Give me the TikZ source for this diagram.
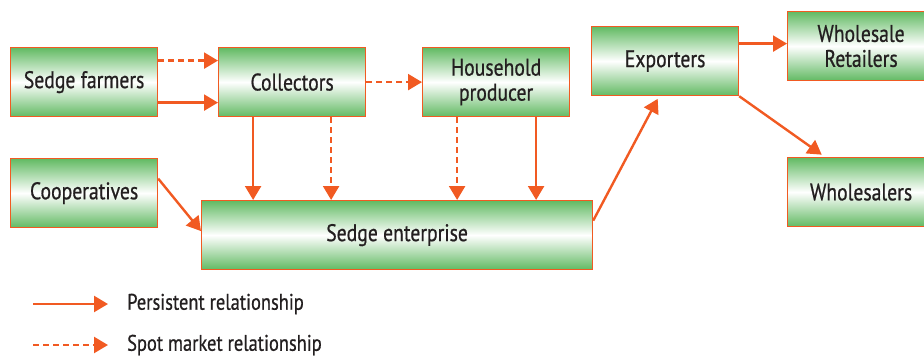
\documentclass[tikz,border=0pt]{standalone}
\usepackage{fontspec}
\setmainfont[FakeStretch=0.82, FakeBold=0.7]{PT Sans}
\usetikzlibrary{arrows.meta}
\usetikzlibrary{positioning}

\definecolor{edgeorange}{HTML}{F15A22}
\definecolor{boxgreen}{HTML}{62BA63}
\definecolor{txtgray}{HTML}{231F20}

\tikzset{
  box/.style={draw=edgeorange, line width=1.2pt, top color=boxgreen, bottom color=boxgreen,
    middle color=white, minimum width=147pt, minimum height=69pt, inner sep=0pt,
    text=txtgray, font=\fontsize{24}{25}\selectfont, align=center, anchor=north west},
  persist/.style={draw=edgeorange, line width=2.4pt, -{Triangle[length=14pt,width=16pt]}},
  spot/.style={persist, dash pattern=on 6pt off 4pt},
  legendtext/.style={text=txtgray, font=\fontsize{22.5}{22}\selectfont, anchor=west, inner sep=0pt}
}

\begin{document}
\begin{tikzpicture}[x=1pt, y=-1pt]
      \useasboundingbox (0,0) rectangle (924,356);

      % Boxes
      \node[box] (farmers) at (10,47) {Sedge farmers};
      \node[box] (collectors) at (218,47) {Collectors};
      \node[box] (household) at (422,47) {Household\\producer};
      \node[box] (coop) at (10,158) {Cooperatives};
      \node[box, minimum width=391pt] (enterprise) at (201,200) {Sedge enterprise};
      \node[box] (exporters) at (591,26) {Exporters};
      \node[box] (retailers) at (787,11) {Wholesale\\Retailers};
      \node[box] (wholesalers) at (787,157) {Wholesalers};

      % Links between boxes
      \draw[spot] ([yshift=21.5pt]farmers.east) -- ([yshift=21.5pt]farmers.east -| collectors.west);
      \draw[persist] ([yshift=-20.5pt]farmers.east) -- ([yshift=-20.5pt]farmers.east -| collectors.west);
      \draw[spot] (collectors.east) -- (household.west);
      \draw[persist] ([xshift=-39pt]collectors.south) -- ([xshift=-39pt]collectors.south |- enterprise.north);
      \draw[spot] ([xshift=39pt]collectors.south) -- ([xshift=39pt]collectors.south |- enterprise.north);
      \draw[spot] ([xshift=-39pt]household.south) -- ([xshift=-39pt]household.south |- enterprise.north);
      \draw[persist] ([xshift=40pt]household.south) -- ([xshift=40pt]household.south |- enterprise.north);
      \draw[persist] ([yshift=14.5pt]coop.east) -- ([yshift=4pt]enterprise.west);
      \draw[persist, shorten >=3pt] ([yshift=14.5pt]enterprise.east) -- ([xshift=-6pt]exporters.south);
      \draw[persist] ([yshift=17.5pt]exporters.east) -- ([yshift=17.5pt]exporters.east -| retailers.west);
      \draw[persist, shorten >=4pt] (exporters.south east) -- ([xshift=38pt]wholesalers.north west);

      % Legend
      \coordinate (persistA) at (33,304);
      \coordinate (persistB) at (108,304);
      \coordinate (spotA) at (33,345);
      \coordinate (spotB) at (108,345);
      \draw[persist] (persistA) -- (persistB);
      \draw[spot] (spotA) -- (spotB);
      \node[legendtext] (persistlabel) at (127,304) {Persistent relationship};
      \node[legendtext] (spotlabel) at (127,345) {Spot market relationship};
\end{tikzpicture}
\end{document}
